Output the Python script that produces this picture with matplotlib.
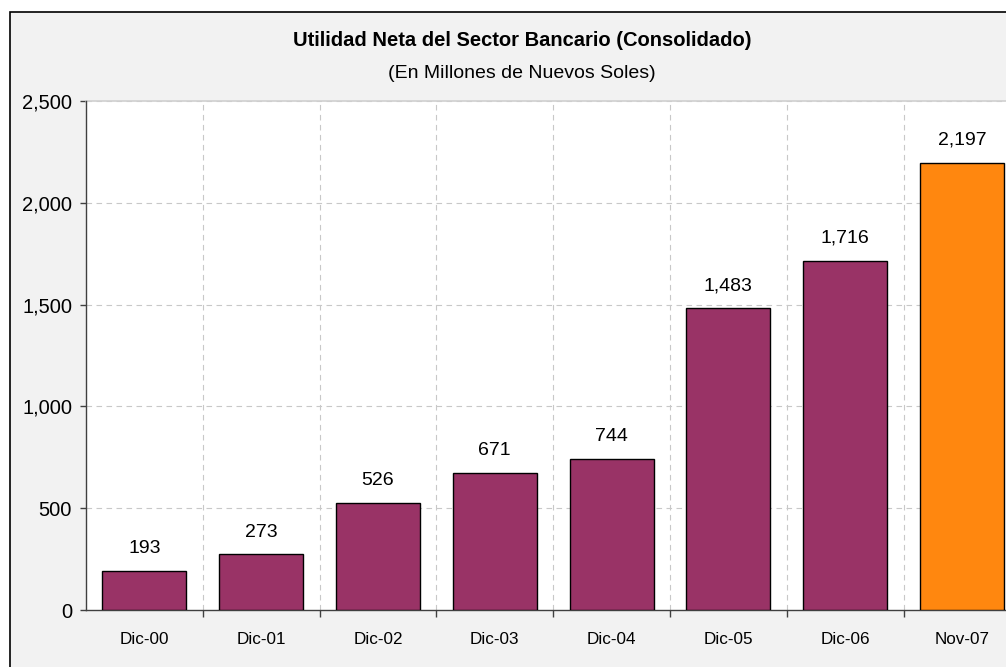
import matplotlib
matplotlib.use("Agg")
import matplotlib.pyplot as plt
from matplotlib.patches import Rectangle
import numpy as np

categories = ["Dic-00", "Dic-01", "Dic-02", "Dic-03", "Dic-04", "Dic-05", "Dic-06", "Nov-07"]
values = [193, 273, 526, 671, 744, 1483, 1716, 2197]
bar_colors = ["#993366"] * 7 + ["#FF870F"]
title = "Utilidad Neta del Sector Bancario (Consolidado)"
subtitle = "(En Millones de Nuevos Soles)"
yticks = [0, 500, 1000, 1500, 2000, 2500]

regular = ["Liberation Sans", "DejaVu Sans"]

W, H = 1006, 667
fig = plt.figure(figsize=(W / 100, H / 100), dpi=100)
fig.patch.set_facecolor("white")

# chart area frame (cropped at right and bottom)
fig.patches.append(Rectangle((10 / W, -0.1), 1.2, 1 - 12 / H + 0.1, transform=fig.transFigure,
                             facecolor="#F2F2F2", edgecolor="black", linewidth=1.2, zorder=-5))

left, right, top, bottom = 86, 1020.4, 101, 610
ax = fig.add_axes([left / W, 1 - bottom / H, (right - left) / W, (bottom - top) / H])
ax.set_zorder(1)
ax.set_facecolor("white")

x = np.arange(len(categories))
bars = ax.bar(x, values, width=0.72, color=bar_colors, edgecolor="black", linewidth=1.0, zorder=3)

for xi, v in zip(x, values):
    ax.annotate(f"{v:,}", (xi, v), xytext=(0, 10), textcoords="offset points",
                ha="center", va="bottom", fontsize=14, family=regular, color="black")

ax.set_xlim(-0.5, len(categories) - 0.5)
ax.set_ylim(0, 2500)
ax.set_yticks(yticks)
ax.set_yticklabels([f"{t:,}" for t in yticks], family=regular, fontsize=14.5)
ax.tick_params(axis="y", direction="out", length=4, width=1, color="#404040", pad=6)

ax.set_xticks(x)
ax.set_xticklabels(categories, family=regular, fontsize=12.3)
ax.set_xticks(np.arange(0.5, len(categories) - 0.5, 1.0), minor=True)
ax.tick_params(axis="x", which="major", length=0, pad=16)
ax.tick_params(axis="x", which="minor", direction="out", length=5, width=1, color="#404040")

for y in yticks[1:]:
    ax.axhline(y, color="#C8C8C8", linestyle=(0, (5, 4)), linewidth=0.8, zorder=1)
for xb in np.arange(0.5, len(categories) - 0.5, 1.0):
    ax.axvline(xb, color="#C8C8C8", linestyle=(0, (5, 4)), linewidth=0.8, zorder=1)

for s in ["top", "right"]:
    ax.spines[s].set_visible(False)
ax.spines["left"].set_color("#404040")
ax.spines["bottom"].set_color("#404040")
ax.spines["left"].set_linewidth(1)
ax.spines["bottom"].set_linewidth(1)
ax.axhline(2500, color="#D0D0D0", linewidth=1.2, zorder=2, clip_on=False)

fig.text(522 / W, 1 - 40 / H, title, ha="center", va="center", fontsize=14.5,
         fontweight="bold", family=regular)
fig.text(522 / W, 1 - 73 / H, subtitle, ha="center", va="center", fontsize=14, family=regular)

fig.savefig("out.png", dpi=100, facecolor=fig.get_facecolor())
